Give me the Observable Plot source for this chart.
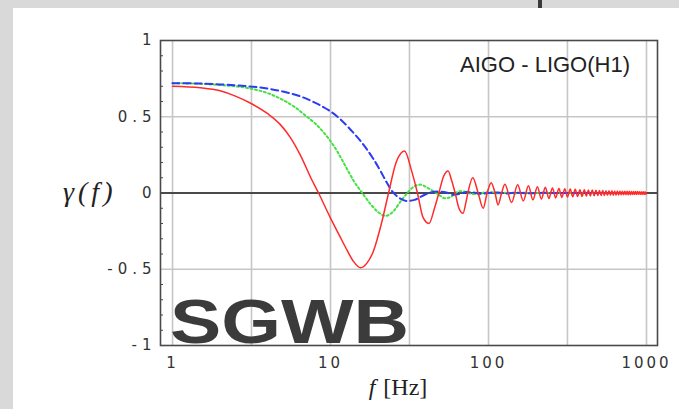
<!DOCTYPE html>
<html><head><meta charset="utf-8">
<script src="https://cdn.jsdelivr.net/npm/d3@7"></script>
<script src="https://cdn.jsdelivr.net/npm/@observablehq/plot@0.6"></script>
<style>
html,body{margin:0;padding:0;}
body{width:679px;height:409px;background:#d9d9d9;position:relative;overflow:hidden;font-family:"DejaVu Sans";}
#panel{position:absolute;left:13px;top:8px;width:666px;height:401px;background:#fff;}
#mark{position:absolute;left:538px;top:0;width:4px;height:8px;background:#3a3a3a;}
#chart{position:absolute;left:0;top:0;}
#chart svg{overflow:visible;}
[aria-label="x-axis tick label"] text{letter-spacing:3px;}
[aria-label="y-axis tick label"] text{letter-spacing:5px;}
#ylab{position:absolute;left:63px;top:178px;font-family:"Liberation Serif";font-style:italic;font-size:28px;line-height:1;letter-spacing:4px;color:#222;white-space:nowrap;}
#xlab{position:absolute;left:338px;width:120px;text-align:center;top:375px;font-family:"Liberation Serif";font-size:24px;line-height:1;color:#222;white-space:nowrap;}
#xlab i{font-style:italic;margin-right:2px;}
#pair{position:absolute;right:49px;top:54px;font-family:"Liberation Sans";font-size:22px;line-height:1;color:#222;white-space:nowrap;}
#sgwb{position:absolute;left:170px;top:296px;font-family:"Liberation Sans";font-weight:bold;font-size:63px;line-height:0.8;color:#3b3b3b;white-space:nowrap;transform:scaleX(1.22);transform-origin:0 0;}
</style>
</head><body>
<div id="panel"></div>
<div id="mark"></div>
<div id="chart"></div>
<div id="ylab">γ(f)</div>
<div id="xlab"><i>f</i> [Hz]</div>
<div id="pair">AIGO - LIGO(H1)</div>
<div id="sgwb">SGWB</div>
<script>
// ---- data ----
const xTicks = [1, 10, 100, 1000];
const yTicks = [-1, -0.5, 0, 0.5, 1];
const gridX = [1, 3.16, 10, 31.6, 100, 316, 1000];
const gridY = [-0.5, 0.5];
const minorY = [-0.9,-0.8,-0.7,-0.6,-0.4,-0.3,-0.2,-0.1,0.1,0.2,0.3,0.4,0.6,0.7,0.8,0.9];

// red solid curve: [f (Hz), gamma]
const redSeries = [
  [1,0.70],[1.5,0.69],[2,0.67],[2.5,0.635],[3.1,0.59],[4,0.52],[4.8,0.45],[5.6,0.36],
  [6.5,0.24],[7.5,0.10],[8.4,0.0],[10,-0.165],[11.4,-0.28],[12.8,-0.38],[14,-0.45],
  [15.5,-0.49],[17,-0.46],[18.7,-0.38],[21,-0.2],[23.3,0],[26,0.2],[29.4,0.275],
  [32.5,0.15],[35.5,0],[38.5,-0.16],[42,-0.2],[45.5,-0.1],[48.5,0],[52,0.11],[55.5,0.144],
  [58.5,0.08],[61.5,0],[65,-0.1],[69,-0.133],[72,-0.06],[74,0],[79.5,0.10],[86,0],
  [92.5,-0.10],[98,0],[104,0.068],[110,0],[115,-0.078],[121,0],[127,0.057],
  [140,-0.062],[153,0.054],[166,-0.052],[179,0.047],[191,-0.045],[204,0.041],[216,-0.040],
  [229,0.037],[241,-0.036],[254,0.033],[266,-0.032],[279,0.030],[291,-0.029],[304,0.028],
  [316,-0.027],[329,0.026],[341,-0.025],[354,0.024],[366,-0.023],[379,0.022],[391,-0.022],
  [404,0.021],[416,-0.020],[429,0.020],[441,-0.019],[454,0.019],[466,-0.018],[479,0.018],
  [491,-0.017],[504,0.017],[516,-0.016],[529,0.016],[541,-0.016],[554,0.015],[566,-0.015],
  [579,0.015],[591,-0.014],[604,0.014],[616,-0.014],[629,0.013],[641,-0.013],[654,0.013],
  [666,-0.013],[679,0.012],[691,-0.012],[704,0.012],[716,-0.012],[729,0.012],[741,-0.011],
  [754,0.011],[766,-0.011],[779,0.011],[791,-0.011],[804,0.010],[816,-0.010],[829,0.010],
  [841,-0.010],[854,0.010],[866,-0.010],[879,0.010],[891,-0.009],[904,0.009],[916,-0.009],
  [929,0.009],[941,-0.009],[954,0.009],[966,-0.009],[979,0.009],[991,-0.009],[1000,0]
];
// blue dashed curve
const blueSeries = [
  [1,0.72],[1.5,0.718],[2,0.712],[3,0.70],[4,0.685],[5,0.665],[6.5,0.632],[7.7,0.60],
  [8.6,0.575],[10,0.535],[11.5,0.485],[13.4,0.415],[16.2,0.315],[18.5,0.23],[20.7,0.145],
  [22.5,0.075],[24.6,0.01],[27,-0.03],[30.5,-0.052],[34,-0.045],[38,-0.02],[42,0],[48,0.01],
  [54,0.004],[60,-0.012],[66,-0.006],[73,0.006],[80,0.004],[90,-0.005],[100,0],[115,0.004],
  [130,-0.003],[150,0.002],[180,-0.002],[220,0.001],[300,0],[1000,0]
];
// green dotted curve
const greenSeries = [
  [1,0.72],[1.5,0.716],[2,0.708],[3.1,0.685],[4,0.655],[5,0.61],[6,0.56],[7,0.505],[8,0.455],
  [9,0.40],[10,0.34],[11,0.275],[12,0.205],[13,0.14],[14,0.08],[15,0.035],[16,-0.005],
  [18,-0.075],[20,-0.125],[22.3,-0.15],[25,-0.12],[28,-0.05],[30.6,0],[33.5,0.04],[37,0.055],
  [41,0.035],[45,0.01],[49,-0.015],[53,-0.035],[58,-0.025],[62,0],[66,0.012],[72,0.008],
  [78,-0.005],[86,-0.008],[95,0.004],[105,0.005],[115,-0.004],[130,0.002],[145,-0.003],
  [165,0.002],[190,-0.001],[230,0.001],[300,0],[1000,0]
];

const rows = s => s.map(([f, g]) => ({f, g}));
const fmtY = d => d === 0 ? "0" : d < 0 ? "-" + String(-d) : String(d);

const chart = Plot.plot({
  width: 679, height: 409,
  marginLeft: 160, marginRight: 22, marginTop: 40, marginBottom: 64,
  x: {type: "log", domain: [0.839, 1174], label: null},
  y: {domain: [-1, 1], label: null},
  style: {fontFamily: "DejaVu Sans", fontSize: "15px", color: "#333", background: "transparent"},
  marks: [
    Plot.ruleX(gridX, {stroke: "#c6c6c6", strokeWidth: 1.6}),
    Plot.ruleY(gridY, {stroke: "#c6c6c6", strokeWidth: 1.6}),
    Plot.ruleY([0], {stroke: "#4a4a4a", strokeWidth: 2.2}),
    Plot.axisY(minorY, {tickSize: 3, dx: 3, tickFormat: () => "", stroke: "#444", label: null}),
    Plot.axisY(yTicks, {tickSize: 0, tickPadding: 4, tickFormat: fmtY, fill: "#333", label: null}),
    Plot.axisX(xTicks, {tickSize: 0, tickPadding: 12, tickFormat: d => String(d), fill: "#333", label: null}),
    Plot.line(rows(greenSeries), {x: "f", y: "g", stroke: "#44e044", strokeWidth: 2, strokeDasharray: "2,2.6", curve: "monotone-x"}),
    Plot.line(rows(blueSeries), {x: "f", y: "g", stroke: "#2b3cf5", strokeWidth: 2, strokeDasharray: "7,4", curve: "monotone-x"}),
    Plot.line(rows(redSeries), {x: "f", y: "g", stroke: "#ff2a2a", strokeWidth: 1.5, curve: "monotone-x"}),
    Plot.frame({stroke: "#4a4a4a", strokeWidth: 1.6})
  ]
});
document.getElementById("chart").appendChild(chart);
</script>
</body></html>
